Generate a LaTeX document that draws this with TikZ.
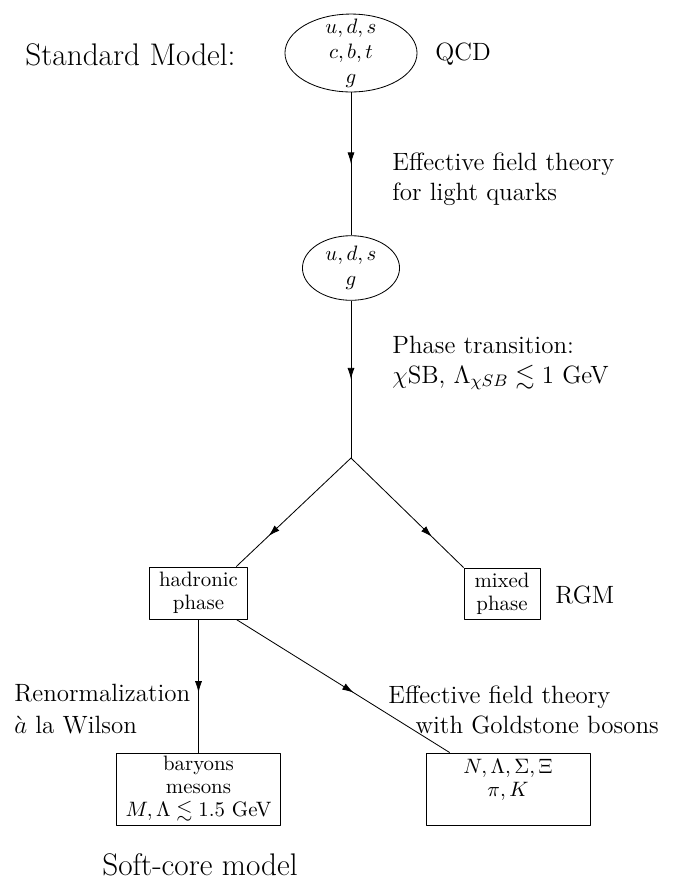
\documentclass[tikz,border=0pt]{standalone}
\usepackage{amsmath,amssymb}
\usetikzlibrary{arrows.meta,shapes.geometric,decorations.markings}
\tikzset{
	midarrow/.style={postaction={decorate},decoration={markings,
		mark=at position #1 with {\arrow{Latex[length=5.5pt,width=3.4pt]}}}},
	midarrow/.default=0.5,
	blob/.style={draw,ellipse,inner sep=-4pt,align=center,font=\fontsize{10}{12}\selectfont},
	box/.style={draw,rectangle,inner sep=0pt,align=center,font=\fontsize{10}{11}\selectfont},
	lab/.style={anchor=base west,inner sep=0pt,align=left}
}
\begin{document}
\begin{tikzpicture}[x=0.48pt, y=-0.48pt, font=\large, line join=round, >=stealth]
	\useasboundingbox (0,0) rectangle (695,881);
	
	\node[blob, minimum width=63.4pt, minimum height=37.4pt] (sm) at (351,53) {$u,d,s$\\$c,b,t$\\$g$};
	\node[blob, minimum width=46.6pt, minimum height=31pt] (light) at (351,268) {$u,d,s$\\$g$};
	\coordinate (split) at (351,458);
	\node[box, minimum width=47pt, minimum height=25pt] (hadr) at (198.5,593) {hadronic\\phase};
	\node[box, minimum width=36.5pt, minimum height=24.5pt] (mixed) at (502,593.5) {mixed\\phase};
	\node[box, minimum width=78.7pt, minimum height=34.6pt] (soft) at (198.5,789) {baryons\\mesons\\$M,\Lambda\lesssim 1.5$ GeV};
	\node[box, minimum width=78.7pt, minimum height=34.6pt] (gold) at (508,789) {$N,\Lambda,\Sigma,\Xi$\\$\pi,K$\\\mbox{}};
	
	\node[lab, font=\fontsize{15}{18}\selectfont] (smlab) at (25,65) {Standard Model:};
	\node[lab] (qcdlab) at (435,60) {QCD};
	\node[lab] (efflab) at (392,200) {Effective field theory\\for light quarks};
	\node[lab] (phaselab) at (392,383) {Phase transition:\\$\chi$SB, $\Lambda_{\chi SB}\lesssim 1$ GeV};
	\node[lab] (rgmlab) at (555,603) {RGM};
	\node[lab] (renlab) at (14,733) {Renormalization\\[1pt]$\grave{a}$ la Wilson};
	\node[lab] (goldlab) at (388,733) {Effective field theory\\\hspace*{13pt}with Goldstone bosons};
	\node[anchor=base, inner sep=0pt, font=\fontsize{15}{18}\selectfont] (softlab) at (200,875) {Soft-core model};
	
	\draw[midarrow] (sm) -- (light);
	\draw[midarrow] (light) -- (split);
	\draw[midarrow=0.72] (split) -- (hadr.35);
	\draw[midarrow=0.72] (split) -- (mixed.north west);
	\draw[midarrow=0.55] (hadr) -- (soft);
	\draw[midarrow=0.55] (hadr.-35) -- (gold.148);
\end{tikzpicture}
\end{document}
